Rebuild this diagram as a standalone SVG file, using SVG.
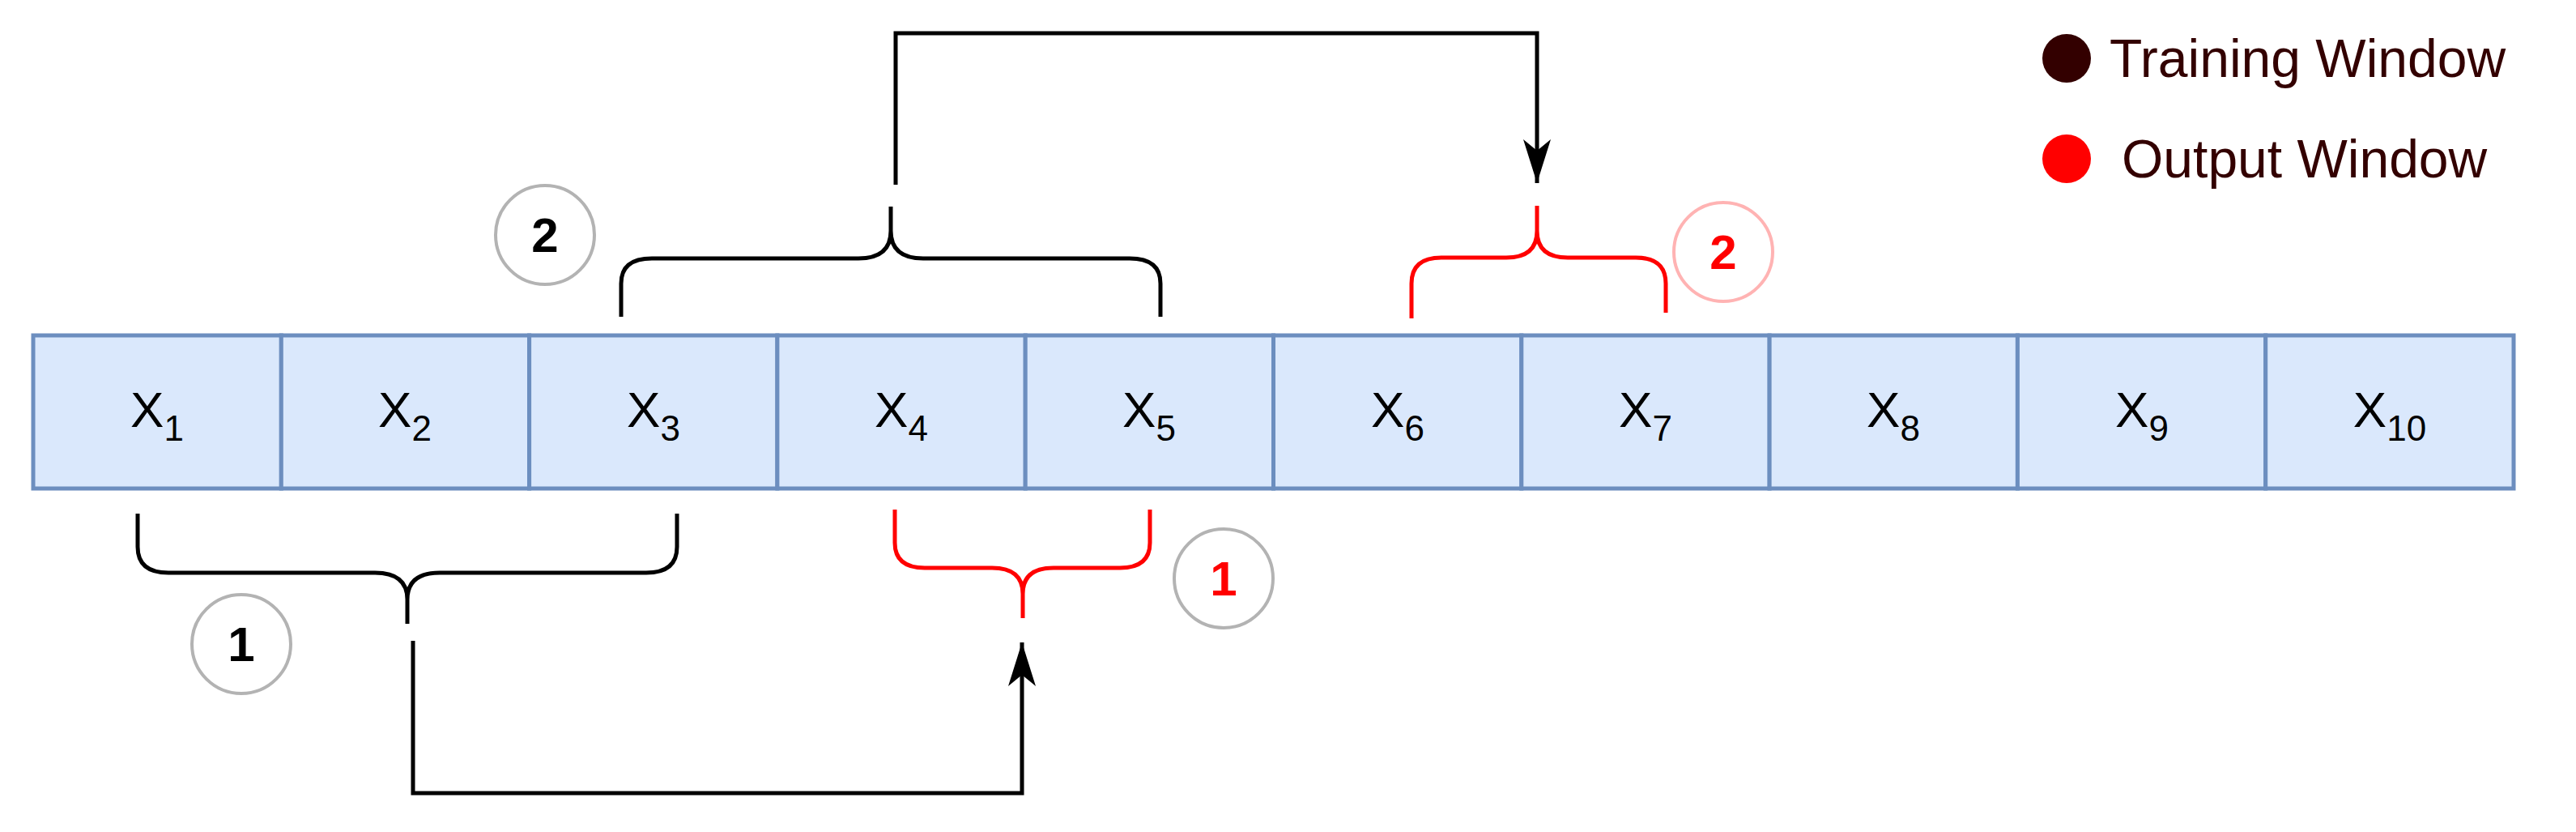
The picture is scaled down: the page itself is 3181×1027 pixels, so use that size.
<svg xmlns="http://www.w3.org/2000/svg" width="3181" height="1027" viewBox="0 0 3181 1027">
<style>
.cell{fill:#dae8fc;stroke:#6c8ebf;stroke-width:5}
.lbl{font-family:"Liberation Sans",Arial,sans-serif;font-size:62px;fill:#000;text-anchor:middle}
.sub{font-size:44px}
.br{fill:none;stroke-width:5}
.blk{stroke:#000}
.red{stroke:#ff0000}
.con{fill:none;stroke:#000;stroke-width:5}
.num{font-family:"Liberation Sans",Arial,sans-serif;font-size:60px;font-weight:bold;text-anchor:middle}
.leg{font-family:"Liberation Sans",Arial,sans-serif;font-size:66px;fill:#330000}
</style>
<defs>
<marker id="ah" viewBox="0 0 54 34" refX="54" refY="17" markerWidth="54" markerHeight="34" markerUnits="userSpaceOnUse" orient="auto">
<path d="M0,0 L54,17 L0,34 L14,17 Z" fill="#000"/>
</marker>
</defs>
<rect width="3181" height="1027" fill="#fff"/>
<g id="cells">
<g id="c1"><rect class="cell" x="41" y="414" width="306.3" height="189"/><text class="lbl" x="194" y="527">X<tspan class="sub" dy="17">1</tspan></text></g>
<g id="c2"><rect class="cell" x="347.3" y="414" width="306.3" height="189"/><text class="lbl" x="500" y="527">X<tspan class="sub" dy="17">2</tspan></text></g>
<g id="c3"><rect class="cell" x="653.6" y="414" width="306.3" height="189"/><text class="lbl" x="807" y="527">X<tspan class="sub" dy="17">3</tspan></text></g>
<g id="c4"><rect class="cell" x="959.9" y="414" width="306.3" height="189"/><text class="lbl" x="1113" y="527">X<tspan class="sub" dy="17">4</tspan></text></g>
<g id="c5"><rect class="cell" x="1266.2" y="414" width="306.3" height="189"/><text class="lbl" x="1419" y="527">X<tspan class="sub" dy="17">5</tspan></text></g>
<g id="c6"><rect class="cell" x="1572.5" y="414" width="306.3" height="189"/><text class="lbl" x="1726" y="527">X<tspan class="sub" dy="17">6</tspan></text></g>
<g id="c7"><rect class="cell" x="1878.8" y="414" width="306.3" height="189"/><text class="lbl" x="2032" y="527">X<tspan class="sub" dy="17">7</tspan></text></g>
<g id="c8"><rect class="cell" x="2185.1" y="414" width="306.3" height="189"/><text class="lbl" x="2338" y="527">X<tspan class="sub" dy="17">8</tspan></text></g>
<g id="c9"><rect class="cell" x="2491.4" y="414" width="306.3" height="189"/><text class="lbl" x="2645" y="527">X<tspan class="sub" dy="17">9</tspan></text></g>
<g id="c10"><rect class="cell" x="2797.7" y="414" width="306.3" height="189"/><text class="lbl" x="2951" y="527">X<tspan class="sub" dy="17">10</tspan></text></g>
</g>
<g id="brackets">
<path id="b-train2" class="br blk" d="M767,391 V350 Q767,319 805,319 H1060 Q1100,319 1100,285 V255 M1100,285 Q1100,319 1140,319 H1395 Q1433,319 1433,350 V391"/>
<path id="b-out2" class="br red" d="M1743,393 V350 Q1743,318 1780,318 H1860 Q1898,318 1898,285 V254 M1898,285 Q1898,318 1936,318 H2020 Q2057,318 2057,350 V386"/>
<path id="b-train1" class="br blk" d="M170,634 V675 Q170,707 208,707 H463 Q503,707 503,740 V770 M503,740 Q503,707 543,707 H798 Q836,707 836,675 V634"/>
<path id="b-out1" class="br red" d="M1105,629 V670 Q1105,701 1142,701 H1225 Q1263,701 1263,733 V763 M1263,733 Q1263,701 1301,701 H1383 Q1420,701 1420,670 V629"/>
</g>
<g id="badges">
<g id="n2b"><circle cx="673" cy="290" r="61" fill="#fff" stroke="#b3b3b3" stroke-width="4"/><text class="num" x="673" y="311" fill="#000">2</text></g>
<g id="n2r"><circle cx="2128" cy="311" r="61" fill="#fff" stroke="#ffb3b3" stroke-width="4"/><text class="num" x="2128" y="332" fill="#ff0000">2</text></g>
<g id="n1b"><circle cx="298" cy="795" r="61" fill="#fff" stroke="#b3b3b3" stroke-width="4"/><text class="num" x="298" y="816" fill="#000">1</text></g>
<g id="n1r"><circle cx="1511" cy="714" r="61" fill="#fff" stroke="#b3b3b3" stroke-width="4"/><text class="num" x="1511" y="735" fill="#ff0000">1</text></g>
</g>
<g id="connectors">
<path class="con" d="M1106,228 V41 H1898 V226" marker-end="url(#ah)"/>
<path class="con" d="M510,791 V979 H1262 V793" marker-end="url(#ah)"/>
</g>
<g id="legend">
<g id="leg-train"><circle cx="2552" cy="72" r="30" fill="#330000"/><text class="leg" x="2605" y="95">Training Window</text></g>
<g id="leg-out"><circle cx="2552" cy="196" r="30" fill="#ff0000"/><text class="leg" x="2620" y="219">Output Window</text></g>
</g>
</svg>
